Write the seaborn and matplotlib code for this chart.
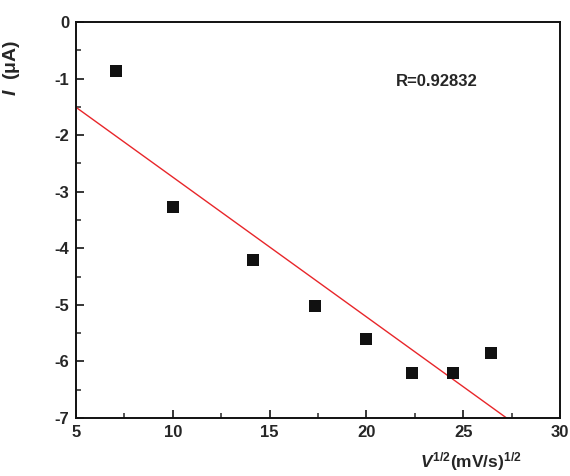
import numpy as np
import pandas as pd
import matplotlib
matplotlib.use("Agg")
import matplotlib.pyplot as plt
import seaborn as sns
from matplotlib.ticker import MultipleLocator

# data
scan_rate = [50, 100, 200, 300, 400, 500, 600, 700]  # mV/s
sqrt_v = [7.07, 10.0, 14.14, 17.32, 20.0, 22.36, 24.49, 26.46]
current = [-0.87, -3.27, -4.20, -5.02, -5.60, -6.20, -6.20, -5.85]
r_label = "R=0.92832"
x_ticks = [5, 10, 15, 20, 25, 30]
y_ticks = [0, -1, -2, -3, -4, -5, -6, -7]

sns.set_style("ticks")
plt.rcParams['font.family'] = ['Liberation Sans', 'DejaVu Sans']
plt.rcParams['font.weight'] = 'bold'
plt.rcParams['axes.unicode_minus'] = False
plt.rcParams['mathtext.fontset'] = 'custom'
plt.rcParams['mathtext.rm'] = 'Liberation Sans:bold'
plt.rcParams['mathtext.bf'] = 'Liberation Sans:bold'
plt.rcParams['mathtext.it'] = 'Liberation Sans:italic:bold'
plt.rcParams['mathtext.bfit'] = 'Liberation Sans:italic:bold'

df = pd.DataFrame({"x": sqrt_v, "y": current})

fig = plt.figure(figsize=(5.7, 4.76), dpi=100)
ax = fig.add_axes([0.1333, 0.1218, 0.8492, 0.8320])

# linear fit
k, b = np.polyfit(df["x"], df["y"], 1)
xf = np.array([5, 30])
fit = pd.DataFrame({"x": xf, "y": k * xf + b})
sns.lineplot(data=fit, x="x", y="y", ax=ax, color="#e8262a", lw=1.0)

sns.scatterplot(data=df, x="x", y="y", ax=ax, marker="s", s=75,
                color="#111111", edgecolor="#111111", linewidth=0, zorder=3)

ax.set_xlim(5, 30)
ax.set_ylim(-7, 0)
ax.set_xticks(x_ticks)
ax.set_yticks(y_ticks)
ax.xaxis.set_minor_locator(MultipleLocator(2.5))
ax.yaxis.set_minor_locator(MultipleLocator(0.5))
ax.tick_params(which="major", direction="in", length=6, width=1.3,
               labelsize=12, pad=5, top=False, right=False)
ax.tick_params(which="minor", direction="in", length=3.5, width=1.1,
               top=False, right=False)
for lab in ax.get_xticklabels() + ax.get_yticklabels():
    lab.set_fontweight("bold")
for s in ax.spines.values():
    s.set_linewidth(1.4)
    s.set_color("#111111")

ax.set_ylabel(r"$\mathit{I}$  (μA)", fontsize=14, fontweight="bold")
ax.yaxis.set_label_coords(-0.112, 0.885)
ax.set_xlabel(r"$\mathit{V}^{1/2}$(mV/s)$^{1/2}$", fontsize=12.5, fontweight="bold")
ax.xaxis.set_label_coords(0.815, -0.08)

ax.text(21.5, -1.06, r_label, fontsize=12, fontweight="bold",
        va="center", ha="left")

fig.savefig("out.png", dpi=100, facecolor="white")
